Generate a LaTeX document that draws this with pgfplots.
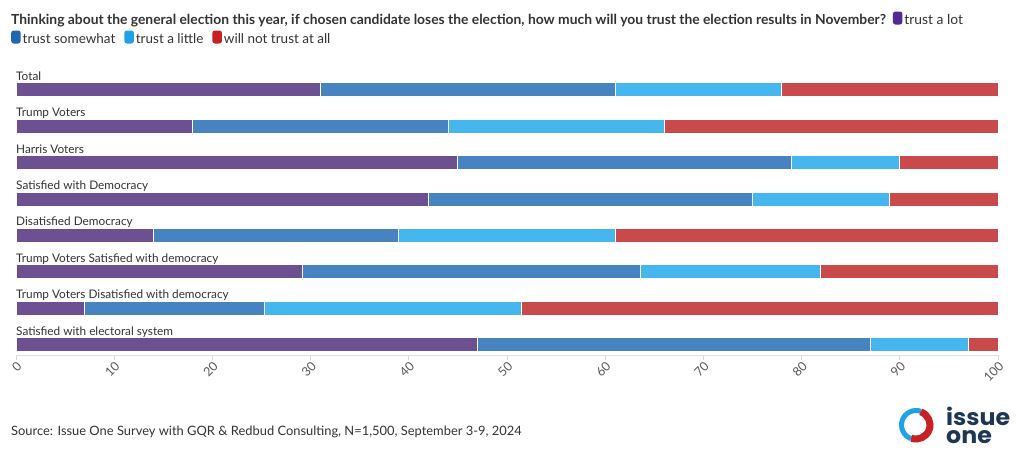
\documentclass[border=0pt]{standalone}
\usepackage{pgfplots}
\pgfplotsset{compat=1.18}
\usepackage{pgfplotstable}
\usepackage{fontspec}
\setmainfont{Lato}
\newfontfamily\logofont{Poppins}
\definecolor{cLot}{RGB}{108,80,145}
\definecolor{cSome}{RGB}{70,131,192}
\definecolor{cLittle}{RGB}{70,182,238}
\definecolor{cNone}{RGB}{201,74,74}
\definecolor{lLot}{RGB}{82,42,145}
\definecolor{lSome}{RGB}{32,102,176}
\definecolor{lLittle}{RGB}{32,162,230}
\definecolor{lNone}{RGB}{200,32,36}
\definecolor{txt}{RGB}{51,51,51}
\definecolor{navy}{RGB}{30,55,85}
\newcommand{\sw}[1]{\tikz[baseline=-2.5pt]\fill[#1, rounded corners=2.5pt] (0,-3pt) rectangle (9.5pt,10pt);}
\tikzset{catlabel/.style={anchor=base west, inner sep=0, font=\fontsize{11.8}{12}\selectfont, text=txt}}
\pgfplotstableread{
cat lot some little none
0 31 30 17 22
1 18 26 22 34
2 45 34 11 10
3 42 33 14 11
4 14 25 22 39
5 29.2 34.4 18.3 18.1
6 7 18.3 26.2 48.5
7 47 40 10 3
}\chartdata
\begin{document}
\begin{tikzpicture}
\path[use as bounding box] (0,0) rectangle (1020pt,-464pt);
\node[anchor=base west, inner sep=0, font=\fontsize{13.85}{14}\selectfont, text=txt] at (11pt,-24pt)
 {\textbf{Thinking about the general election this year, if chosen candidate loses the election, how much will you trust the election results in November?}\hspace{7pt}\sw{lLot}\hspace{2pt}trust a lot};
\node[anchor=base west, inner sep=0, font=\fontsize{13.5}{14}\selectfont, text=txt] at (11pt,-43pt)
 {\sw{lSome}\hspace{2pt}trust somewhat\hspace{9pt}\sw{lLittle}\hspace{2pt}trust a little\hspace{9pt}\sw{lNone}\hspace{2pt}will not trust at all};
\begin{axis}[
  at={(16pt,-355pt)}, anchor=south west,
  scale only axis, width=982pt, height=286.9pt,
  xmin=0, xmax=100, ymin=-0.6, ymax=7.29, y dir=reverse,
  xbar stacked, bar width=14pt,
  axis y line=none, axis x line*=bottom,
  x axis line style={draw=black!12, line width=0.8pt},
  xtick={0,10,...,100}, ytick=\empty,
  tick align=outside, major tick length=5pt,
  xtick style={draw=black!15, line width=0.8pt},
  /pgf/number format/assume math mode=true,
  xticklabel style={rotate=45, anchor=north east, inner sep=0.5pt, font=\fontsize{12.5}{12.5}\selectfont, text=black!65},
  clip=false,
]
\addplot[fill=cLot, draw=white, line width=1pt] table[x=lot, y=cat]{\chartdata};
\addplot[fill=cSome, draw=white, line width=1pt] table[x=some, y=cat]{\chartdata};
\addplot[fill=cLittle, draw=white, line width=1pt] table[x=little, y=cat]{\chartdata};
\addplot[fill=cNone, draw=white, line width=1pt] table[x=none, y=cat]{\chartdata};
\node[catlabel] at (axis cs:0,-0.26) {Total};
\node[catlabel] at (axis cs:0,0.74) {Trump Voters};
\node[catlabel] at (axis cs:0,1.74) {Harris Voters};
\node[catlabel] at (axis cs:0,2.74) {Satisfied with Democracy};
\node[catlabel] at (axis cs:0,3.74) {Disatisfied Democracy};
\node[catlabel] at (axis cs:0,4.74) {Trump Voters Satisfied with democracy};
\node[catlabel] at (axis cs:0,5.74) {Trump Voters Disatisfied with democracy};
\node[catlabel] at (axis cs:0,6.74) {Satisfied with electoral system};
\end{axis}
\node[anchor=base west, inner sep=0, font=\fontsize{12.9}{13}\selectfont, text=txt] at (11pt,-435pt)
 {Source: Issue One Survey with GQR \& Redbud Consulting, N=1,500, September 3-9, 2024};
% logo
\draw[line width=5pt, color=lLittle] (916pt,-425pt) ++(70:14.5pt) arc (70:250:14.5pt);
\draw[line width=7pt, color=lNone] (916pt,-425pt) ++(250:14pt) arc (250:430:14pt);
\node[anchor=base west, inner sep=0, xscale=1.03, font=\logofont\bfseries\fontsize{23}{18}\selectfont, text=navy] at (946pt,-425pt) {issue};
\node[anchor=base west, inner sep=0, xscale=1.03, font=\logofont\bfseries\fontsize{23}{18}\selectfont, text=navy] at (946pt,-443pt) {one};
\end{tikzpicture}
\end{document}
